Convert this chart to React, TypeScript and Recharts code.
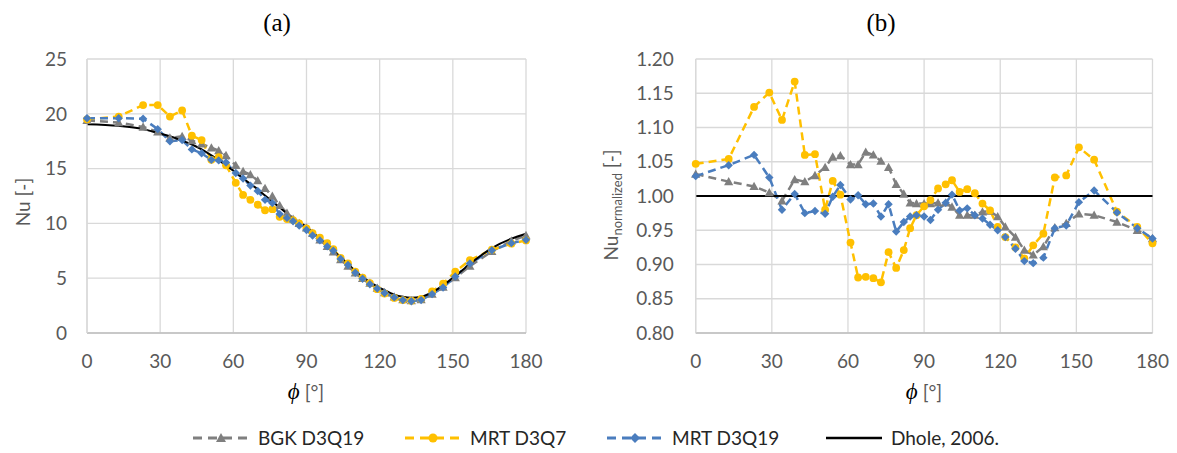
import React from "react";
import {
  LineChart,
  Line,
  XAxis,
  YAxis,
  CartesianGrid,
} from "recharts";

// angle along the cylinder surface, degrees
const phi = [
  0, 13, 23, 29, 34, 39, 43, 47, 51, 54,
  57, 61, 64, 67, 70, 73, 76, 79, 82, 84.5,
  87, 90, 92.5, 95.5, 98.5, 101, 104, 107, 110, 113,
  116, 119, 122, 126, 129.5, 133, 137, 141.5, 146, 151,
  157, 166, 174, 180,
];

// (a) local Nusselt number
const nuBgk = [
  19.4, 19.2, 18.8, 18.35, 17.8, 17.95, 17.55, 17.25, 16.9, 16.65,
  16.2, 15.3, 14.75, 14.45, 13.9, 13.2, 12.5, 11.65, 10.95, 10.4,
  10.0, 9.6, 9.1, 8.5, 7.9, 7.4, 6.7, 6.1, 5.5, 5.0,
  4.55, 4.1, 3.7, 3.3, 3.05, 2.95, 3.05, 3.55, 4.2, 5.05,
  6.1, 7.45, 8.4, 8.9,
];
const nuMrt7 = [
  19.5, 19.75, 20.8, 20.8, 19.75, 20.3, 18.0, 17.6, 15.8, 16.05,
  15.3, 13.7, 12.6, 12.15, 11.7, 11.2, 11.3, 10.6, 10.4, 10.3,
  10.0, 9.55, 9.1, 8.7, 8.2, 7.65, 6.85, 6.35, 5.6, 5.05,
  4.55, 4.0, 3.6, 3.2, 3.0, 2.95, 3.1, 3.8, 4.5, 5.6,
  6.65, 7.6, 8.15, 8.45,
];
const nuMrt19 = [
  19.6, 19.6, 19.55, 18.6, 17.5, 17.6, 16.75, 16.4, 15.8, 15.75,
  15.55, 14.6, 14.1, 13.45, 12.95, 12.15, 11.85, 10.85, 10.5, 10.2,
  9.8, 9.4, 8.9, 8.45, 7.9, 7.5, 6.75, 6.2, 5.5, 4.95,
  4.45, 4.05, 3.65, 3.25, 3.0, 2.9, 3.0, 3.55, 4.15, 5.15,
  6.35, 7.55, 8.2, 8.5,
];
const nuDhole = [
  19.05, 18.9, 18.6, 18.25, 17.95, 17.55, 17.2, 16.75, 16.2, 15.75,
  15.3, 14.65, 14.1, 13.6, 13.1, 12.55, 12.0, 11.45, 10.9, 10.5,
  10.1, 9.7, 9.2, 8.6, 8.0, 7.5, 6.9, 6.3, 5.65, 5.1,
  4.65, 4.25, 3.9, 3.5, 3.3, 3.22, 3.3, 3.7, 4.35, 5.2,
  6.3, 7.75, 8.6, 9.05,
];

// (b) Nu normalized by the Dhole (2006) correlation
const normBgk = [
  1.032, 1.021, 1.014, 1.005, 0.993, 1.024, 1.021, 1.03, 1.042, 1.057,
  1.059, 1.046, 1.046, 1.064, 1.06, 1.051, 1.042, 1.017, 1.003, 0.99,
  0.989, 0.989, 0.989, 0.99, 0.99, 0.984, 0.972, 0.972, 0.972, 0.977,
  0.978, 0.97, 0.955, 0.94, 0.921, 0.914, 0.926, 0.954, 0.96, 0.974,
  0.972, 0.962, 0.95, 0.938,
];
const normMrt7 = [
  1.047, 1.054, 1.13, 1.151, 1.111, 1.167, 1.06, 1.061, 0.98, 1.022,
  1.002, 0.932, 0.881, 0.882, 0.88, 0.874, 0.918, 0.895, 0.921, 0.953,
  0.972, 0.985, 0.994, 1.011, 1.017, 1.023, 1.006, 1.01, 1.004, 0.989,
  0.979, 0.955, 0.94, 0.925, 0.909, 0.928, 0.945, 1.027, 1.03, 1.071,
  1.053, 0.977, 0.955, 0.931,
];
const normMrt19 = [
  1.029, 1.045, 1.06, 1.027, 0.98, 1.003, 0.975, 0.978, 0.974, 0.999,
  1.016, 0.995, 1.001, 0.988, 0.989, 0.97, 0.988, 0.948, 0.962, 0.97,
  0.972, 0.97, 0.965, 0.98, 0.99, 1.002, 0.979, 0.982, 0.972, 0.967,
  0.958, 0.95, 0.94, 0.923, 0.905, 0.902, 0.91, 0.953, 0.957, 0.991,
  1.008, 0.976, 0.953, 0.938,
];
const dholePhi = [0, 180];
const dholeNorm = [1, 1];

const phiTicks = [0, 30, 60, 90, 120, 150, 180];
const nuTicks = [0, 5, 10, 15, 20, 25];
const normTicks = [0.8, 0.85, 0.9, 0.95, 1.0, 1.05, 1.1, 1.15, 1.2];

const GRAY = "#7f7f7f";
const GOLD = "#ffc000";
const BLUE = "#4a7dbe";
const GRID = "#d9d9d9";
const TEXT = "#595959";
const DASH = "8 5";

const rowsA = phi.map((p, i) => ({
  phi: p,
  bgk: nuBgk[i],
  mrt7: nuMrt7[i],
  mrt19: nuMrt19[i],
  dhole: nuDhole[i],
}));
const rowsB = phi.map((p, i) => ({
  phi: p,
  bgk: normBgk[i],
  mrt7: normMrt7[i],
  mrt19: normMrt19[i],
}));
const rowsDholeB = dholePhi.map((p, i) => ({ phi: p, dhole: dholeNorm[i] }));

const tickStyle = { fill: TEXT, fontSize: 19, fontFamily: "Lato, sans-serif" };

function Triangle({ cx, cy, color, s = 4.6 }: any) {
  if (cx == null || cy == null) return <g />;
  return (
    <path
      d={`M${cx},${cy - s} L${cx + s},${cy + s * 0.8} L${cx - s},${cy + s * 0.8} Z`}
      fill={color}
    />
  );
}

function Diamond({ cx, cy, color, s = 4.2 }: any) {
  if (cx == null || cy == null) return <g />;
  return (
    <path
      d={`M${cx},${cy - s} L${cx + s},${cy} L${cx},${cy + s} L${cx - s},${cy} Z`}
      fill={color}
    />
  );
}

const triDot = (props: any) => (
  <Triangle key={`t-${props.index}`} cx={props.cx} cy={props.cy} color={GRAY} />
);
const diaDot = (props: any) => (
  <Diamond key={`d-${props.index}`} cx={props.cx} cy={props.cy} color={BLUE} />
);
const circleDot = { r: 3.9, fill: GOLD, stroke: GOLD, strokeWidth: 0 };

function Panel({
  rows,
  domain,
  ticks,
  fmt,
  yWidth,
  right,
  width,
  children,
}: any) {
  return (
    <LineChart
      width={width}
      height={420}
      data={rows}
      margin={{ top: 59, right, bottom: 57, left: 0 }}
    >
      <CartesianGrid stroke={GRID} strokeWidth={1.3} />
      <XAxis
        dataKey="phi"
        type="number"
        domain={[0, 180]}
        ticks={phiTicks}
        tickLine={false}
        tickSize={0}
        tickMargin={22}
        height={30}
        axisLine={{ stroke: "#bfbfbf", strokeWidth: 1.5 }}
        tick={tickStyle}
        allowDuplicatedCategory={false}
      />
      <YAxis
        type="number"
        domain={domain}
        ticks={ticks}
        tickFormatter={fmt}
        tickLine={false}
        tickSize={0}
        tickMargin={yWidth > 90 ? 22 : 20}
        width={yWidth}
        axisLine={{ stroke: GRID, strokeWidth: 1.3 }}
        tick={tickStyle}
        allowDataOverflow
      />
      {children}
    </LineChart>
  );
}

function LegendIcon({ color, marker, dashed }: any) {
  return (
    <svg width={58} height={14} style={{ display: "block" }}>
      <line
        x1={1}
        y1={7}
        x2={57}
        y2={7}
        stroke={color}
        strokeWidth={dashed ? 3 : 2.5}
        strokeDasharray={dashed ? "9 6" : undefined}
      />
      {marker === "tri" && <Triangle cx={29} cy={7} color={color} s={5} />}
      {marker === "circle" && <circle cx={29} cy={7} r={4.5} fill={color} />}
      {marker === "dia" && <Diamond cx={29} cy={7} color={color} s={5} />}
    </svg>
  );
}

const legendItems = [
  { label: "BGK D3Q19", color: GRAY, marker: "tri", dashed: true, x: 192 },
  { label: "MRT D3Q7", color: GOLD, marker: "circle", dashed: true, x: 404 },
  { label: "MRT D3Q19", color: BLUE, marker: "dia", dashed: true, x: 606 },
  { label: "Dhole, 2006.", color: "#000000", marker: "none", dashed: false, x: 825 },
];

const abs = (left: number, top: number, extra: any = {}) => ({
  position: "absolute" as const,
  left,
  top,
  transform: "translate(-50%, -50%)",
  whiteSpace: "nowrap" as const,
  ...extra,
});

function PhiTitle({ x }: { x: number }) {
  return (
    <div style={abs(x, 392, { color: TEXT, fontSize: 19, fontFamily: "Lato, sans-serif" })}>
      <span
        style={{
          fontFamily: "'Liberation Serif', 'DejaVu Serif', serif",
          fontStyle: "italic",
          fontSize: 23,
          color: "#000",
        }}
      >
        ϕ
      </span>{" "}
      [°]
    </div>
  );
}

export default function App() {
  return (
    <div
      style={{
        position: "absolute",
        left: 0,
        top: 0,
        width: 1177,
        height: 453,
        background: "#fff",
        overflow: "hidden",
      }}
    >
      <div style={{ position: "absolute", left: 0, top: 0 }}>
        <Panel
          rows={rowsA}
          domain={[0, 25]}
          ticks={nuTicks}
          fmt={(v: number) => String(v)}
          yWidth={87}
          right={34}
          width={560}
        >
          <Line
            dataKey="bgk"
            stroke={GRAY}
            strokeWidth={2.5}
            strokeDasharray={DASH}
            dot={triDot}
            activeDot={false}
            isAnimationActive={false}
          />
          <Line
            dataKey="mrt7"
            stroke={GOLD}
            strokeWidth={2.5}
            strokeDasharray={DASH}
            dot={circleDot}
            activeDot={false}
            isAnimationActive={false}
          />
          <Line
            dataKey="mrt19"
            stroke={BLUE}
            strokeWidth={2.5}
            strokeDasharray={DASH}
            dot={diaDot}
            activeDot={false}
            isAnimationActive={false}
          />
          <Line
            dataKey="dhole"
            type="monotone"
            stroke="#000"
            strokeWidth={2}
            dot={false}
            activeDot={false}
            isAnimationActive={false}
          />
        </Panel>
      </div>

      <div style={{ position: "absolute", left: 600, top: 0 }}>
        <Panel
          rows={rowsB}
          domain={[0.8, 1.2]}
          ticks={normTicks}
          fmt={(v: number) => v.toFixed(2)}
          yWidth={95.7}
          right={24.5}
          width={577}
        >
          <Line
            dataKey="bgk"
            stroke={GRAY}
            strokeWidth={2.5}
            strokeDasharray={DASH}
            dot={triDot}
            activeDot={false}
            isAnimationActive={false}
          />
          <Line
            dataKey="mrt7"
            stroke={GOLD}
            strokeWidth={2.5}
            strokeDasharray={DASH}
            dot={circleDot}
            activeDot={false}
            isAnimationActive={false}
          />
          <Line
            dataKey="mrt19"
            stroke={BLUE}
            strokeWidth={2.5}
            strokeDasharray={DASH}
            dot={diaDot}
            activeDot={false}
            isAnimationActive={false}
          />
          <Line
            data={rowsDholeB}
            dataKey="dhole"
            stroke="#000"
            strokeWidth={2}
            dot={false}
            activeDot={false}
            isAnimationActive={false}
          />
        </Panel>
      </div>

      {/* panel titles */}
      <div style={abs(277, 23, { fontFamily: "'Liberation Serif', serif", fontSize: 25, color: "#000" })}>
        (a)
      </div>
      <div style={abs(881, 23, { fontFamily: "'Liberation Serif', serif", fontSize: 25, color: "#000" })}>
        (b)
      </div>

      {/* axis titles */}
      <PhiTitle x={306} />
      <PhiTitle x={924} />
      <div
        style={abs(22, 202, {
          transform: "translate(-50%, -50%) rotate(-90deg)",
          color: TEXT,
          fontSize: 19,
          fontFamily: "Lato, sans-serif",
        })}
      >
        Nu [-]
      </div>
      <div
        style={abs(612, 205, {
          transform: "translate(-50%, -50%) rotate(-90deg)",
          color: TEXT,
          fontSize: 19,
          fontFamily: "Lato, sans-serif",
        })}
      >
        Nu<sub style={{ fontSize: 13 }}>normalized</sub> [-]
      </div>

      {/* legend */}
      {legendItems.map((it) => (
        <div
          key={it.label}
          style={{
            position: "absolute",
            left: it.x,
            top: 426,
            display: "flex",
            alignItems: "center",
            gap: 8,
            fontFamily: "Lato, sans-serif",
            fontSize: 19,
            color: "#262626",
            whiteSpace: "nowrap",
          }}
        >
          <LegendIcon color={it.color} marker={it.marker} dashed={it.dashed} />
          <span>{it.label}</span>
        </div>
      ))}
    </div>
  );
}
